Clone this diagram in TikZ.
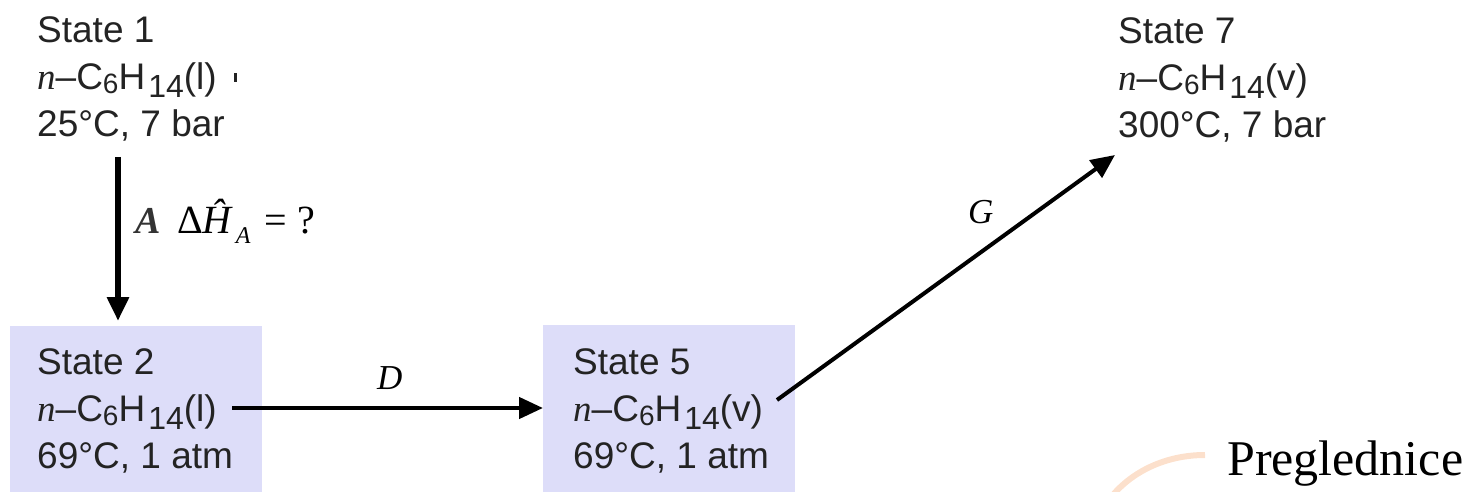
\documentclass[tikz,border=0pt]{standalone}
\usepackage{fontspec}
\setmainfont{Liberation Sans}
\newfontfamily\serifit{Liberation Serif}
\usetikzlibrary{arrows.meta}
\definecolor{boxfill}{RGB}{221,221,249}
\definecolor{txt}{RGB}{35,35,35}
\definecolor{peach}{RGB}{252,224,204}
\newcommand{\ital}[1]{{\serifit\itshape #1}}
\newcommand{\sbsix}[1]{\raisebox{-4pt}{\fontsize{28}{28}\selectfont #1}}
\newcommand{\sbft}[1]{\hspace{3pt}\raisebox{-8pt}{\fontsize{32}{32}\selectfont #1}}
\newcommand{\hexane}[1]{\ital{n}–C\sbsix{6}H\sbft{14}(#1)}
\begin{document}
\begin{tikzpicture}[x=1pt,y=-1pt,
  statetext/.style={anchor=north west, inner sep=0pt, align=left, text=txt, font=\fontsize{37}{47}\selectfont},
  statebox/.style={fill=boxfill, draw=none, inner sep=0pt, anchor=north west},
  flow/.style={draw=black, -{Triangle[length=24pt,width=21pt]}},
  lab/.style={inner sep=0pt, anchor=base west, font={\fontsize{34}{34}\serifit}, text=black}]
\useasboundingbox (0,0) rectangle (1470,492);
% boxes
\node[statebox, minimum width=252pt, minimum height=166pt] (box2) at (10,326) {};
\node[statebox, minimum width=252pt, minimum height=167pt] (box5) at (543,325) {};
% state texts
\node[statetext] (s1) at (37,12) {\rule{0pt}{30pt}State 1\\\hexane{l}\\25°C, 7 bar};
\node[statetext] (s2) at (37,344) {\rule{0pt}{30pt}State 2\\\hexane{l}\\69°C, 1 atm};
\node[statetext] (s5) at (573,344) {\rule{0pt}{30pt}State 5\\\hexane{v}\\69°C, 1 atm};
\node[statetext] (s7) at (1118,13) {\rule{0pt}{30pt}State 7\\\hexane{v}\\300°C, 7 bar};
\fill[txt] (234,73) rectangle (237,82);
% connectors
\coordinate (a-start) at (118,157);
\draw[flow, line width=6.5pt, shorten >=5pt] (a-start) -- (a-start |- box2.north);
\coordinate (d-start) at (232,408);
\draw[flow, line width=4.5pt] (d-start) -- (d-start -| box5.west);
\coordinate (g-start) at (777,400);
\coordinate (g-end) at (1115,155);
\draw[flow, line width=4pt] (g-start) -- (g-end);
% labels
\node[lab, text=black!80, font={\fontsize{38}{38}\serifit}] (lA) at (135,233) {\bfseries\itshape A};
\node[lab, font={\fontsize{40}{40}\serifit}] (lH) at (177,233) {Δ{\itshape Ĥ}\hspace{4pt}\raisebox{-10pt}{\fontsize{24}{24}\selectfont\itshape A}\hspace{14pt}=\hspace{10pt}?};
\node[lab, font={\fontsize{35}{35}\serifit}] (lD) at (377,389) {\itshape D};
\node[lab, font={\fontsize{35}{35}\serifit}] (lG) at (968,223) {\itshape G};
% watermark
\draw[peach, line width=6pt] (1205,455) .. controls (1165,455) and (1132,472) .. (1112,496);
\node[inner sep=0pt, anchor=base west, font={\fontsize{50}{60}\serifit}] (pre) at (1227,475) {Preglednice};
\end{tikzpicture}
\end{document}
